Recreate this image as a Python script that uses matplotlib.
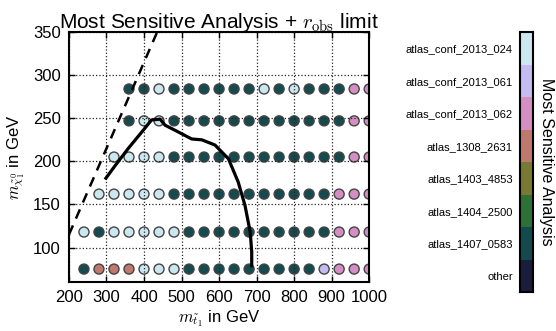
import numpy as np
import matplotlib
matplotlib.use('Agg')
import matplotlib.pyplot as plt
from matplotlib.colors import ListedColormap, BoundaryNorm

plt.rcParams['font.family'] = ['Liberation Sans', 'DejaVu Sans']
plt.rcParams['mathtext.fontset'] = 'cm'

# analyses, bottom -> top on the colorbar
analyses = ['other', 'atlas_1407_0583', 'atlas_1404_2500', 'atlas_1403_4853',
            'atlas_1308_2631', 'atlas_conf_2013_062', 'atlas_conf_2013_061',
            'atlas_conf_2013_024']

# short names used in the grid rows
T = 'atlas_1407_0583'
L = 'atlas_conf_2013_024'
V = 'atlas_conf_2013_061'
P = 'atlas_conf_2013_062'
B = 'atlas_1308_2631'

m_stop = [240, 280, 320, 360, 400, 440, 480, 520, 560, 600,
          640, 680, 720, 760, 800, 840, 880, 920, 960, 1000]
m_lsp = [75, 118, 162, 205, 247, 284]

# most sensitive analysis per row (row starts at given m_stop)
row_start = [240, 240, 280, 320, 360, 360]
rows = [
    [T, B, B, B, L, L, L, T, T, T, T, T, T, T, T, T, V, P, P, P],
    [L, T, L, L, L, L, L, T, T, T, T, T, T, T, T, T, T, P, P, P],
    [L, L, L, L, L, T, T, T, T, T, T, T, T, T, T, T, P, P, P],
    [L, L, L, L, T, T, T, T, T, T, T, T, T, T, T, T, P, P],
    [T, L, L, T, T, T, T, T, T, T, T, T, T, T, T, P, P],
    [T, T, L, T, T, T, T, T, T, L, T, L, T, T, T, P, P],
]

# r_obs = 1 contour
limit_x = [296, 323, 358, 394, 420, 443, 456, 483, 527, 554, 589, 625, 651, 669, 683, 687, 687]
limit_y = [179, 195, 215, 234, 248, 249, 242, 236, 226, 225, 219, 203, 176, 149, 118, 95, 77]

# kinematic line
kin_x = [200, 435]
kin_y = [115, 350]

colors = plt.cm.cubehelix(np.linspace(0.125, 0.875, len(analyses)))
cmap = ListedColormap(colors)
norm = BoundaryNorm(np.arange(len(analyses) + 1) - 0.5, len(analyses))

xs, ys, cs = [], [], []
for y, start, row in zip(m_lsp, row_start, rows):
    i0 = m_stop.index(start)
    for x, a in zip(m_stop[i0:], row):
        xs.append(x)
        ys.append(y)
        cs.append(analyses.index(a))

fig = plt.figure(figsize=(5.56, 3.31), dpi=100)
ax = fig.add_axes([0.124, 0.148, 0.540, 0.755])
sc = ax.scatter(xs, ys, c=cs, cmap=cmap, norm=norm, s=52,
                edgecolors='#444444', linewidths=1.0, zorder=1)
ax.plot(limit_x, limit_y, color='black', lw=2.3, zorder=3, solid_capstyle='butt')
ax.plot(kin_x, kin_y, color='black', lw=1.8, ls=(0, (4, 3)), zorder=3)

ax.set_xlim(200, 1000)
ax.set_ylim(60, 350)
ax.set_xticks([200, 300, 400, 500, 600, 700, 800, 900, 1000])
ax.set_yticks([100, 150, 200, 250, 300, 350])
ax.grid(True, color='0.15', ls=':', lw=0.9)
ax.tick_params(direction='in', top=True, right=True, length=4, width=1,
               labelsize=12, pad=6)
for s in ax.spines.values():
    s.set_linewidth(1.5)

ax.set_title(r'Most Sensitive Analysis + $r_\mathrm{obs}$ limit', fontsize=15, pad=3)
ax.set_xlabel(r'$m_{\tilde{t}_1}$ in GeV', fontsize=12, labelpad=2)
ax.set_ylabel(r'$m_{\tilde{\chi}_1^0}$ in GeV', fontsize=12)

# colorbar drawn by hand so there are no seams between the colour blocks
cax = fig.add_axes([0.935, 0.118, 0.024, 0.785])
cax.imshow(np.arange(len(analyses))[:, None], cmap=cmap, norm=norm,
           aspect='auto', origin='lower', interpolation='nearest',
           extent=(0, 1, -0.5, len(analyses) - 0.5))
cax.set_xticks([])
cax.set_yticks(np.arange(len(analyses)))
cax.set_yticklabels(analyses)
cax.tick_params(which='both', length=0, labelsize=8, pad=5)
for s in cax.spines.values():
    s.set_linewidth(1.5)
cax.yaxis.set_label_position('right')
cax.set_ylabel('Most Sensitive Analysis', rotation=270, fontsize=11.5, labelpad=15)

fig.savefig('out.png', dpi=100)
